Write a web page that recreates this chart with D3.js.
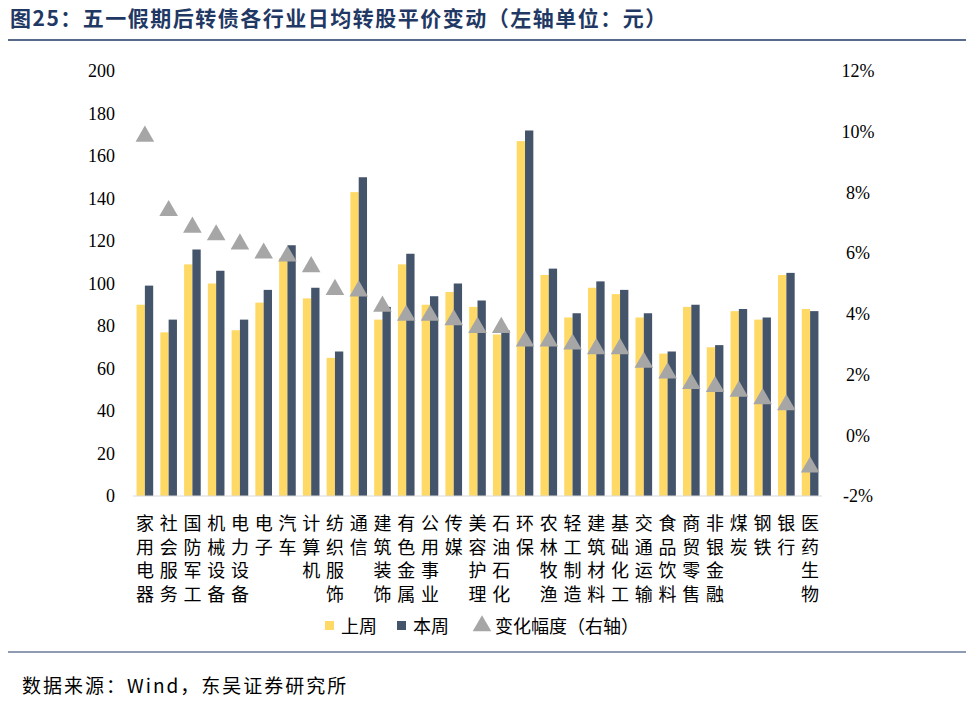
<!DOCTYPE html>
<html><head><meta charset="utf-8">
<script src="https://cdn.jsdelivr.net/npm/d3@7"></script>
<style>body{margin:0;background:#fff;font-family:"Noto Sans CJK SC","Liberation Serif",serif;}</style>
</head><body><svg id="c" width="968" height="702"></svg>
<script>
var categories = ["家用电器","社会服务","国防军工","机械设备","电力设备","电子","汽车","计算机","纺织服饰","通信","建筑装饰","有色金属","公用事业","传媒","美容护理","石油石化","环保","农林牧渔","轻工制造","建筑材料","基础化工","交通运输","食品饮料","商贸零售","非银金融","煤炭","钢铁","银行","医药生物"];
var lastWeek = [90,77,109,100,78,91,112,93,65,143,83,109,90,96,89,76,167,104,84,98,95,84,67,89,70,87,83,104,88];
var thisWeek = [99,83,116,106,83,97,118,98,68,150,89,114,94,100,92,78,172,107,86,101,97,86,68,90,71,88,84,105,87];
var change = [9.85,7.4,6.85,6.6,6.3,6.0,5.9,5.55,4.8,4.75,4.25,3.95,3.95,3.8,3.55,3.55,3.1,3.1,3.0,2.85,2.85,2.4,2.05,1.7,1.6,1.45,1.2,1.0,-1.05];
var leftTicks = [0,20,40,60,80,100,120,140,160,180,200];
var rightTicks = [-2,0,2,4,6,8,10,12];

var svg = d3.select("#c");
var L = 133, R = 822, T = 71, B = 496;
var x = d3.scaleBand().domain(categories).range([L, R]).paddingInner(0.3).paddingOuter(0.15);
var yL = d3.scaleLinear().domain([0,200]).range([B,T]);
var yR = d3.scaleLinear().domain([-2,12]).range([B,T]);
var bw = x.bandwidth()/2;

// title
svg.append("text").attr("x",10).attr("y",26).attr("font-size",21).attr("font-weight","bold")
  .attr("letter-spacing",1.5).attr("fill","#1F3864").text("图25：五一假期后转债各行业日均转股平价变动（左轴单位：元）");
svg.append("line").attr("x1",8).attr("x2",966).attr("y1",40).attr("y2",40).attr("stroke","#1F3864").attr("stroke-width",1.5);
svg.append("line").attr("x1",8).attr("x2",966).attr("y1",652).attr("y2",652).attr("stroke","#1F3864").attr("stroke-width",1);

// axes
var fontNum = "'Liberation Serif',serif";
var ga = svg.append("g").attr("transform","translate(115,0)")
  .call(d3.axisLeft(yL).tickValues(leftTicks).tickSize(0).tickPadding(0));
ga.select(".domain").remove();
ga.selectAll("text").attr("font-size",18).attr("font-family",fontNum).attr("fill","#000");
var gr = svg.append("g").attr("transform","translate(846,0)")
  .call(d3.axisRight(yR).tickValues(rightTicks).tickSize(0).tickPadding(0).tickFormat(function(d){return d+"%";}));
gr.select(".domain").remove();
gr.selectAll("text").attr("font-size",18).attr("font-family",fontNum).attr("fill","#000").attr("text-anchor","middle").attr("dx",12);

// bars
svg.append("g").selectAll("rect").data(categories).join("rect")
  .attr("x",function(d){return x(d);}).attr("width",bw)
  .attr("y",function(d,i){return yL(lastWeek[i]);})
  .attr("height",function(d,i){return B-yL(lastWeek[i]);}).attr("fill","#FFD966");
svg.append("g").selectAll("rect").data(categories).join("rect")
  .attr("x",function(d){return x(d)+bw;}).attr("width",bw)
  .attr("y",function(d,i){return yL(thisWeek[i]);})
  .attr("height",function(d,i){return B-yL(thisWeek[i]);}).attr("fill","#44546A");
svg.append("line").attr("x1",L).attr("x2",R).attr("y1",B).attr("y2",B).attr("stroke","#d9d9d9");

// triangles
var tri = d3.symbol().type(d3.symbolTriangle).size(150);
svg.append("g").selectAll("path").data(categories).join("path")
  .attr("d",tri).attr("fill","#A6A6A6")
  .attr("transform",function(d,i){return "translate("+(x(d)+x.bandwidth()/2)+","+yR(change[i])+")";});

// category labels, one character per line
svg.append("g").selectAll("text").data(categories).join("text")
  .attr("font-size",18).attr("text-anchor","middle").attr("fill","#000")
  .each(function(d){
    var t = d3.select(this), cx = x(d)+x.bandwidth()/2;
    d.split("").forEach(function(c,j){
      t.append("tspan").attr("x",cx).attr("y",530+j*23.5).text(c);
    });
  });

// legend
var lg = svg.append("g").attr("transform","translate(325,627)");
lg.append("rect").attr("x",0).attr("y",-6).attr("width",9).attr("height",9).attr("fill","#FFD966");
lg.append("text").attr("x",16).attr("y",6).attr("font-size",18).text("上周");
lg.append("rect").attr("x",72).attr("y",-6).attr("width",9).attr("height",9).attr("fill","#44546A");
lg.append("text").attr("x",88).attr("y",6).attr("font-size",18).text("本周");
lg.append("path").attr("d",tri).attr("fill","#A6A6A6").attr("transform","translate(157,-1)");
lg.append("text").attr("x",170).attr("y",6).attr("font-size",18).text("变化幅度（右轴）");

// source
svg.append("text").attr("x",22).attr("y",693).attr("font-size",19).attr("letter-spacing",2)
  .text("数据来源：Wind，东吴证券研究所");
</script></body></html>
